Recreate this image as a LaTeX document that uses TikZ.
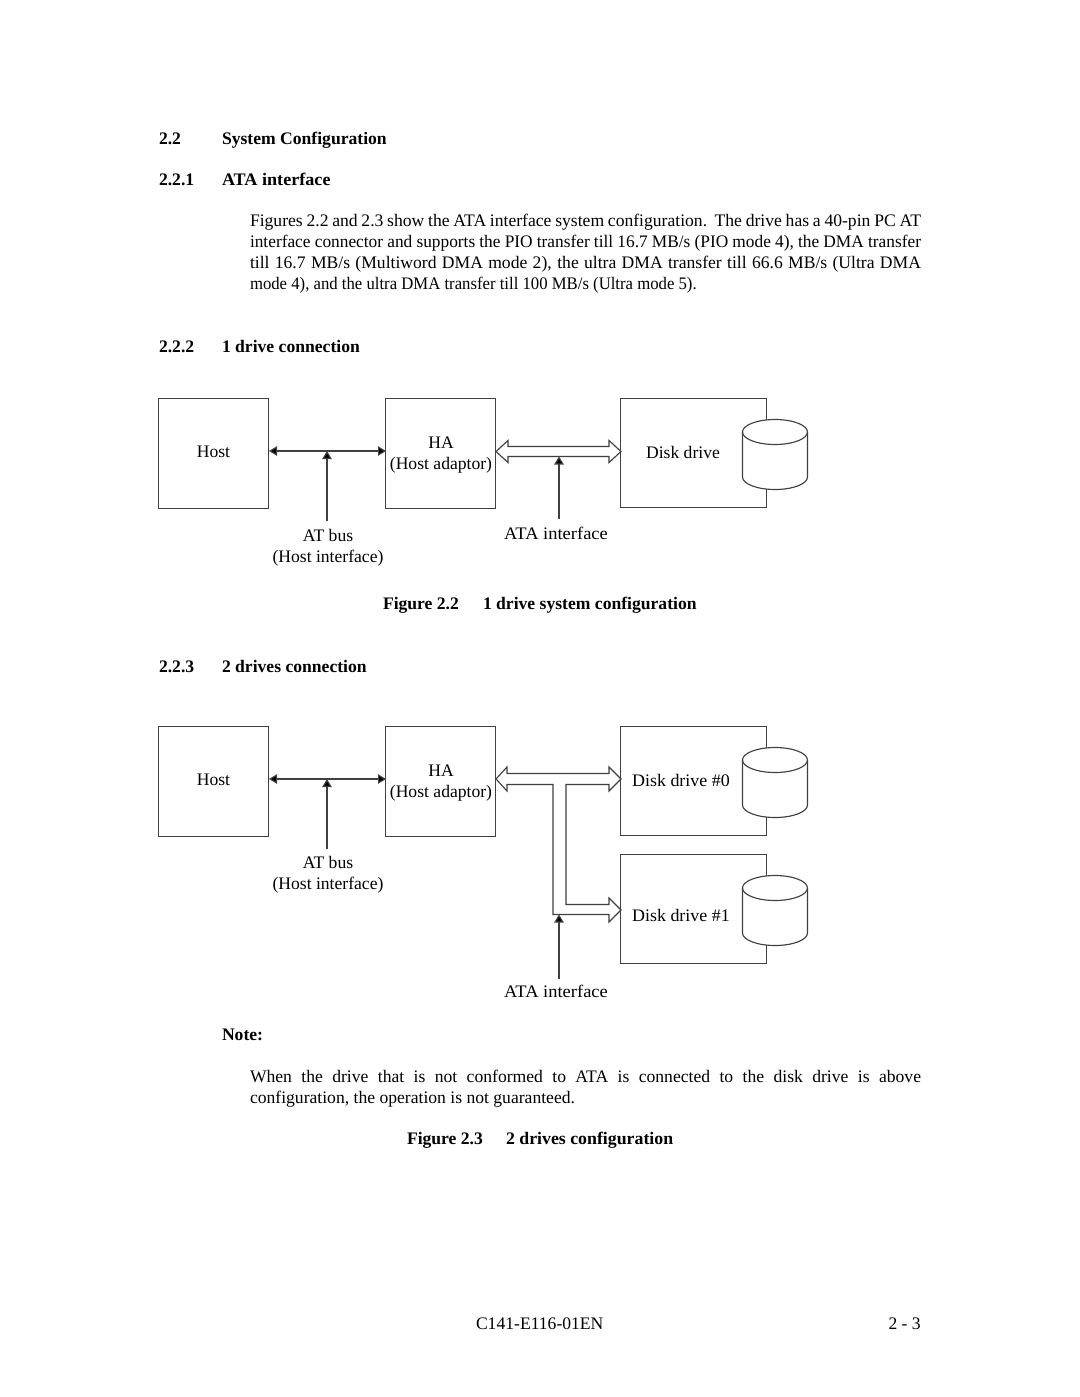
\documentclass[tikz,border=0pt]{standalone}
\usepackage{fontspec}
\setmainfont{Liberation Serif}
\usetikzlibrary{arrows.meta}
\definecolor{ln}{gray}{0.25}
\newcommand{\stretchto}[1]{\addfontfeature{FakeStretch=#1}}
\tikzset{
 every node/.style={inner sep=0pt,outer sep=0pt},
 txt/.style={font=\fontsize{13.2}{15.75}\selectfont,anchor=base west},
 ctr/.style={font=\fontsize{13.2}{15.75}\selectfont,anchor=base},
 hd/.style={font=\fontsize{13.2}{15.75}\selectfont\bfseries,anchor=base west},
 para/.style={font=\fontsize{13.2}{15.75}\selectfont,anchor=base west,text width=503.25pt,align=justify},
 boxn/.style={draw=ln,line width=0.85pt,anchor=north west,minimum width=#1*0.75pt},
 boxn/.default=110,
 lnk/.style={draw=ln,line width=0.85pt},
 hollow/.style={draw=ln,line width=0.85pt,fill=white,line join=miter},
 tip/.style={-{Triangle[length=6pt,width=7pt,fill=black]}},
 tips/.style={{Triangle[length=6pt,width=7pt,fill=black]}-{Triangle[length=6pt,width=7pt,fill=black]}},
}
\newcommand{\cylinder}[2]{% x-centre, top-ellipse centre y (y axis points down)
 \draw[hollow] (#1-32.5,#2) -- (#1-32.5,#2+45)
   arc[start angle=180,end angle=0,x radius=32.5,y radius=12.5] -- (#1+32.5,#2)
   arc[start angle=0,end angle=-180,x radius=32.5,y radius=12.5] -- cycle;
 \draw[hollow,fill=none] (#1-32.5,#2) arc[start angle=180,end angle=0,x radius=32.5,y radius=12.5];
}
\begin{document}
\begin{tikzpicture}[x=0.75pt,y=-0.75pt]
\useasboundingbox[fill=white] (0,0) rectangle (1080,1397);
% headings and body
\node[hd] (h22) at (159,144) {2.2};
\node[hd] (h22t) at (222,144) {System Configuration};
\node[hd] (h221) at (159,185) {2.2.1};
\node[hd] (h221t) at (222,185) {\stretchto{1.03}ATA interface};
\node[para] (body1) at (250,226) {Figures 2.2 and 2.3 show the ATA interface system configuration.\ \ The drive has a 40-pin PC AT\linebreak
{\stretchto{0.985}interface connector and supports the PIO transfer till 16.7 MB/s (PIO mode 4), the DMA transfer}\linebreak
till 16.7 MB/s (Multiword DMA mode 2), the ultra DMA transfer till 66.6 MB/s (Ultra DMA\linebreak
{\stretchto{0.95}mode 4), and the ultra DMA transfer till 100 MB/s (Ultra mode 5).}};
\node[hd] (h222) at (159,352) {2.2.2};
\node[hd] (h222t) at (222,352) {1 drive connection};
% figure 2.2
\node[boxn,minimum height=82.5pt] (host1) at (158.5,398.5) {};
\node[boxn,minimum height=82.5pt] (ha1) at (385.5,398.5) {};
\node[boxn=146,minimum height=81.75pt] (disk1) at (620.5,398.5) {};
\cylinder{775}{432}
\node[ctr] (host1t) at (213.5,457) {Host};
\node[ctr] (ha1t) at (441,448) {HA};
\node[ctr] (ha1s) at (441,469) {(Host adaptor)};
\node[ctr] (disk1t) at (683,458) {Disk drive};
\node[ctr] (at1) at (328,541) {AT bus};
\node[ctr] (hi1) at (328,562) {(Host interface)};
\node[ctr] (ata1) at (556,539) {\stretchto{1.05}ATA interface};
\coordinate (h1r) at (269,451);
\coordinate (a1l) at (386,451);
\coordinate (b1) at (327,451);
\coordinate (b1e) at (327,521);
\draw[lnk,tips] (h1r) -- (a1l);
\draw[lnk,tip] (b1e) -- (b1);
\draw[hollow] (496,451.5) -- (508,440.5) -- (508,446.5) -- (609,446.5) -- (609,440.5) -- (621,451.5) -- (609,462.5) -- (609,456.5) -- (508,456.5) -- (508,462.5) -- cycle;
\coordinate (c1) at (559,456.5);
\coordinate (c1e) at (559,519);
\draw[lnk,tip] (c1e) -- (c1);
\node[hd] (fig22) at (383,609) {Figure 2.2};
\node[hd] (fig22t) at (483,609) {1 drive system configuration};
\node[hd] (h223) at (159,672) {2.2.3};
\node[hd] (h223t) at (222,672) {2 drives connection};
% figure 2.3
\node[boxn,minimum height=82.5pt] (host2) at (158.5,726.5) {};
\node[boxn,minimum height=82.5pt] (ha2) at (385.5,726.5) {};
\node[boxn=146,minimum height=81.75pt] (disk20) at (620.5,726.5) {};
\node[boxn=146,minimum height=81.75pt] (disk21) at (620.5,854.5) {};
\cylinder{775}{760}
\cylinder{775}{888}
\node[ctr] (host2t) at (213.5,785) {Host};
\node[ctr] (ha2t) at (441,776) {HA};
\node[ctr] (ha2s) at (441,797) {(Host adaptor)};
\node[ctr] (d0t) at (681,786) {\stretchto{1.02}Disk drive \#0};
\node[ctr] (d1t) at (681,921) {\stretchto{1.02}Disk drive \#1};
\node[ctr] (at2) at (328,868) {AT bus};
\node[ctr] (hi2) at (328,889) {(Host interface)};
\node[ctr] (ata2) at (556,997) {\stretchto{1.05}ATA interface};
\coordinate (h2r) at (269,779);
\coordinate (a2l) at (386,779);
\coordinate (b2) at (327,779);
\coordinate (b2e) at (327,849);
\draw[lnk,tips] (h2r) -- (a2l);
\draw[lnk,tip] (b2e) -- (b2);
\draw[hollow] (496,779) -- (507,767) -- (507,773.5) -- (609,773.5) -- (609,767) -- (621,779) -- (609,791) -- (609,784.5) -- (566,784.5) -- (566,904.5) -- (609,904.5) -- (609,898) -- (621,910) -- (609,922) -- (609,914.5) -- (553,914.5) -- (553,784.5) -- (507,784.5) -- (507,791) -- cycle;
\coordinate (c2) at (559,914.5);
\coordinate (c2e) at (559,979);
\draw[lnk,tip] (c2e) -- (c2);
% note and captions
\node[hd] (note) at (222,1040) {Note:};
\node[para] (body2) at (250,1082) {When the drive that is not conformed to ATA is connected to the disk drive is above\linebreak
configuration, the operation is not guaranteed.};
\node[hd] (fig23) at (407,1144) {Figure 2.3};
\node[hd] (fig23t) at (506,1144) {\stretchto{1.012}2 drives configuration};
\node[txt] (foot) at (476,1329) {C141-E116-01EN};
\node[txt] (page) at (888.5,1329) {2 - 3};
\end{tikzpicture}
\end{document}
